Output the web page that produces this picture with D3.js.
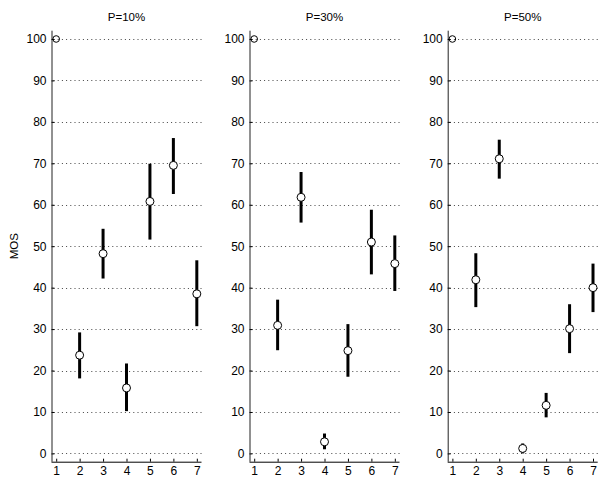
<!DOCTYPE html>
<html>
<head>
<meta charset="utf-8">
<script src="https://cdn.jsdelivr.net/npm/d3@7"></script>
<style>
  body { margin: 0; background: #fff; }
  svg { display: block; font-family: "Liberation Sans", Arial, sans-serif; }
  .grid line { stroke: #444; stroke-dasharray: 1 3.2; stroke-width: 1; }
</style>
</head>
<body>
<svg class="plot"></svg>
<script>
const dimen = { width: 599, height: 477 }
const panelW = 150
const panelLeft = [51.5, 249.5, 447.7]
const axisTop = 30.7, axisBottom = 461.7

// data
const titles = ['P=10%', 'P=30%', 'P=50%']
const conditions = [1, 2, 3, 4, 5, 6, 7]
const yTicks = [0, 10, 20, 30, 40, 50, 60, 70, 80, 90, 100]
const mos10 = [100, 23.7, 48.2, 15.8, 60.8, 69.5, 38.5]
const lo10  = [100, 18.1, 42.2, 10.2, 51.6, 62.6, 30.7]
const hi10  = [100, 29.2, 54.2, 21.7, 69.9, 76.1, 46.6]
const mos30 = [100, 30.9, 61.8, 2.8, 24.8, 51.0, 45.8]
const lo30  = [100, 24.9, 55.7, 1.0, 18.5, 43.2, 39.2]
const hi30  = [100, 37.1, 67.9, 4.8, 31.2, 58.8, 52.6]
const mos50 = [100, 41.9, 71.1, 1.2, 11.6, 30.1, 40.0]
const lo50  = [100, 35.3, 66.3, 0.0, 8.7, 24.2, 34.1]
const hi50  = [100, 48.3, 75.7, 2.4, 14.6, 36.0, 45.8]

const panels = [
  { mos: mos10, lo: lo10, hi: hi10 },
  { mos: mos30, lo: lo30, hi: hi30 },
  { mos: mos50, lo: lo50, hi: hi50 },
]

const svg = d3.select('.plot')
    .attr('width', dimen.width)
    .attr('height', dimen.height)

const yScale = d3.scaleLinear()
  .domain([-2, 102])
  .range([axisBottom, axisTop])

panels.forEach((p, k) => {
  const xScale = d3.scaleLinear()
    .domain([0.8, 7.2])
    .range([0, panelW])

  const g = svg.append('g')
      .attr('transform', `translate(${panelLeft[k]}, 0)`)

  // dotted grid
  g.append('g')
      .attr('class', 'grid')
    .selectAll('line')
      .data(yTicks)
    .enter().append('line')
      .attr('x1', 2).attr('x2', panelW)
      .attr('y1', d => Math.round(yScale(d)) + 0.5)
      .attr('y2', d => Math.round(yScale(d)) + 0.5)

  // y axis, ticks inward
  const yAxis = d3.axisLeft(yScale)
    .tickValues(yTicks)
    .tickFormat(d3.format('d'))
    .tickSize(-3)
    .tickPadding(5)
  const ya = g.append('g').call(yAxis)
  ya.select('.domain').attr('d', `M0.5,${axisTop}V${axisBottom}`).attr('stroke', '#222')
  ya.selectAll('text').attr('font-size', 12).attr('fill', '#000')
    .attr('font-family', '"Liberation Sans", Arial, sans-serif')

  // x axis, ticks inward
  const xAxis = d3.axisBottom(xScale)
    .tickValues(conditions)
    .tickFormat(d3.format('d'))
    .tickSize(-3)
    .tickPadding(5)
  const xa = g.append('g')
      .attr('transform', `translate(0, ${axisBottom})`)
      .call(xAxis)
  xa.select('.domain').attr('d', `M0,0.5H${panelW}`).attr('stroke', '#000')
  xa.selectAll('text').attr('font-size', 12).attr('fill', '#000')
    .attr('font-family', '"Liberation Sans", Arial, sans-serif')

  // title
  g.append('text')
      .attr('x', xScale(4))
      .attr('y', 21)
      .attr('text-anchor', 'middle')
      .attr('font-size', 11.5)
      .text(titles[k])

  const pts = conditions.map((c, i) => ({ x: c, m: p.mos[i], lo: p.lo[i], hi: p.hi[i] }))

  // error bars
  g.append('g')
    .selectAll('line')
      .data(pts.filter(d => d.hi > d.lo))
    .enter().append('line')
      .attr('x1', d => xScale(d.x)).attr('x2', d => xScale(d.x))
      .attr('y1', d => yScale(d.lo)).attr('y2', d => yScale(d.hi))
      .attr('stroke', '#000')
      .attr('stroke-width', 3)

  // mean markers
  g.append('g')
    .selectAll('circle')
      .data(pts)
    .enter().append('circle')
      .attr('cx', d => xScale(d.x))
      .attr('cy', d => yScale(d.m))
      .attr('r', d => d.hi > d.lo ? 4 : 3.3)
      .attr('fill', d => d.hi > d.lo ? '#fff' : 'none')
      .attr('stroke', '#000')
      .attr('stroke-width', 1)
})

// y label
svg.append('text')
    .attr('transform', `translate(18, ${(axisTop + axisBottom) / 2}) rotate(-90)`)
    .attr('text-anchor', 'middle')
    .attr('font-size', 11.5)
    .text('MOS')
</script>
</body>
</html>
